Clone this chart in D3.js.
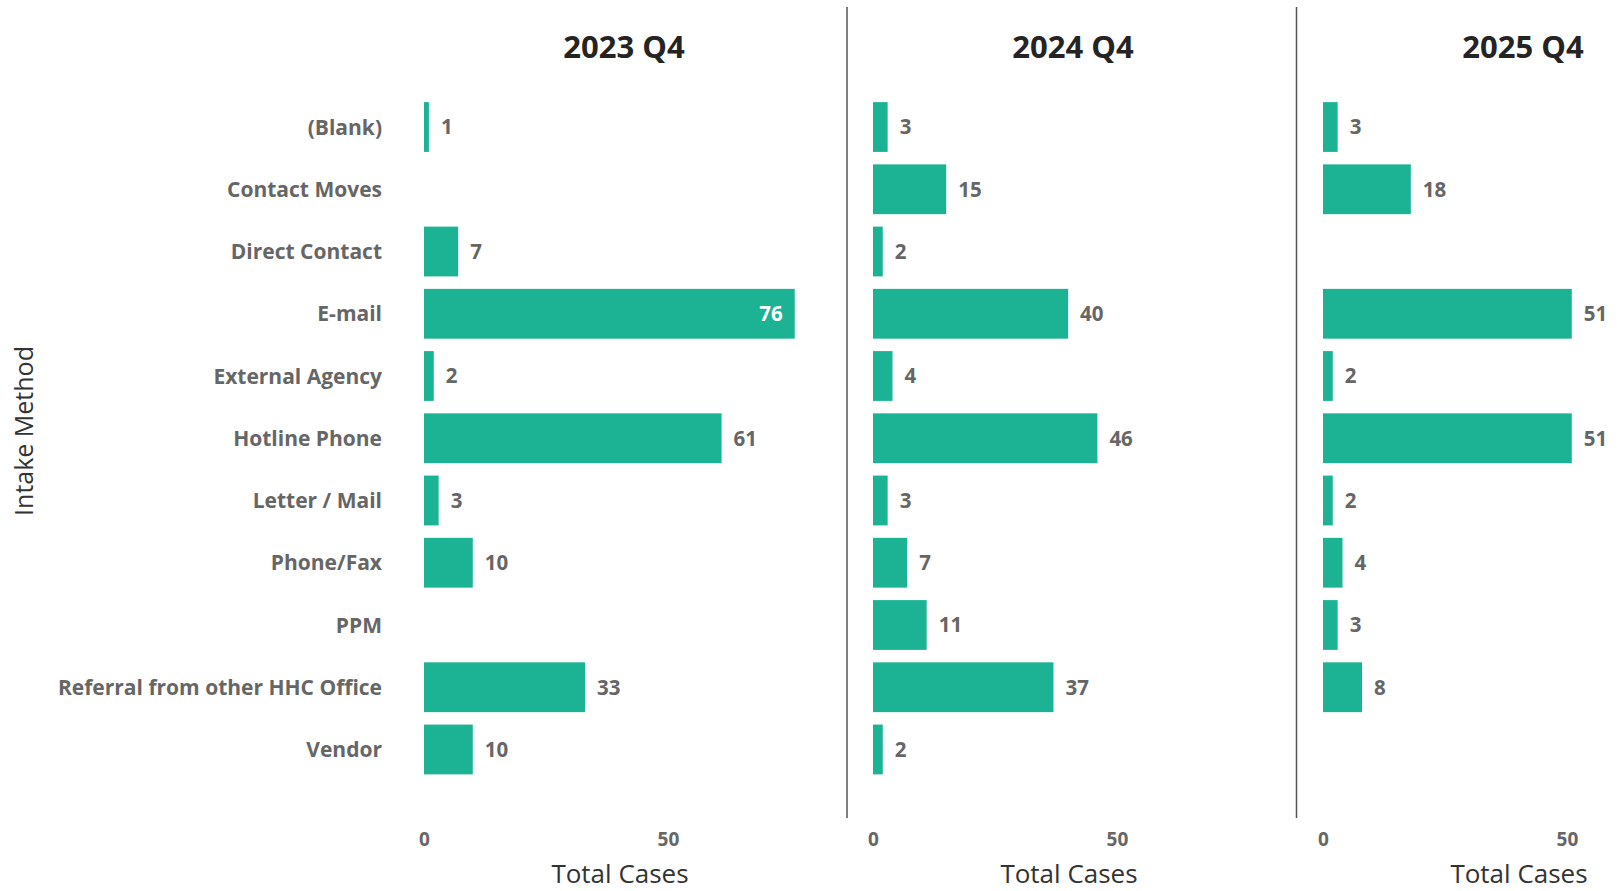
<!DOCTYPE html>
<html>
<head>
<meta charset="utf-8">
<script src="https://cdn.jsdelivr.net/npm/d3@7"></script>
<style>
  html, body { margin: 0; padding: 0; background: #ffffff; overflow: hidden; }
  svg { display: block; }
</style>
</head>
<body>
<svg id="chart" width="1618" height="891"></svg>
<script>
// Intake methods (rows shared by every panel)
const categories = [
  "(Blank)", "Contact Moves", "Direct Contact", "E-mail", "External Agency",
  "Hotline Phone", "Letter / Mail", "Phone/Fax", "PPM",
  "Referral from other HHC Office", "Vendor"
];

// One panel per quarter
const periods = ["2023 Q4", "2024 Q4", "2025 Q4"];

// Total cases per intake method (null = no cases in that quarter)
const cases2023 = [1, null, 7, 76, 2, 61, 3, 10, null, 33, 10];
const cases2024 = [3, 15, 2, 40, 4, 46, 3, 7, 11, 37, 2];
const cases2025 = [3, 18, null, 51, 2, 51, 2, 4, 3, 8, null];

const seriesByPeriod = [cases2023, cases2024, cases2025];

const xTicks = [0, 50];
const xMax = 82;

const xAxisTitle = "Total Cases";
const yAxisTitle = "Intake Method";

// ---- layout ----
const svg = d3.select("#chart");
const barColor = "#1bb394";
const panelLeft = [424, 873, 1323];
const panelWidth = 400;
const dividerX = [847, 1296.5];

const y = d3.scaleBand()
  .domain(categories)
  .range([95.9, 780.6])
  .paddingInner(0.2)
  .paddingOuter(0.1);

const x = d3.scaleLinear().domain([0, xMax]).range([0, panelWidth]);

const labelFont = "'Open Sans', 'Noto Sans', sans-serif";

// Y-axis title
svg.append("text")
  .attr("transform", "translate(33,431) rotate(-90)")
  .attr("text-anchor", "middle")
  .attr("font-family", labelFont)
  .attr("font-size", 25)
  .attr("fill", "#333333")
  .text(yAxisTitle);

// Category labels (left of the first panel)
svg.append("g")
  .selectAll("text")
  .data(categories)
  .join("text")
  .attr("x", 382)
  .attr("y", d => y(d) + y.bandwidth() / 2)
  .attr("dy", "0.36em")
  .attr("text-anchor", "end")
  .attr("font-family", labelFont)
  .attr("font-weight", 700)
  .attr("font-size", 21)
  .attr("fill", "#666666")
  .text(d => d);

// Panel dividers
svg.append("g")
  .selectAll("line")
  .data(dividerX)
  .join("line")
  .attr("x1", d => d).attr("x2", d => d)
  .attr("y1", 7).attr("y2", 818)
  .attr("stroke", "#555555")
  .attr("stroke-width", 1.5);

periods.forEach((period, i) => {
  const values = seriesByPeriod[i];
  const g = svg.append("g").attr("transform", `translate(${panelLeft[i]},0)`);
  const rows = categories.map((c, j) => ({ cat: c, value: values[j] }))
    .filter(d => d.value != null);

  // Panel title
  g.append("text")
    .attr("x", panelWidth / 2)
    .attr("y", 58)
    .attr("text-anchor", "middle")
    .attr("font-family", labelFont)
    .attr("font-weight", 700)
    .attr("font-size", 31)
    .attr("fill", "#252423")
    .text(period);

  // Bars
  g.append("g")
    .selectAll("rect")
    .data(rows)
    .join("rect")
    .attr("x", x(0))
    .attr("y", d => y(d.cat))
    .attr("width", d => x(d.value) - x(0))
    .attr("height", y.bandwidth())
    .attr("fill", barColor);

  // Value labels: outside the bar end, or inside when there is no room
  const gap = 12;
  const lbl = g.append("g")
    .selectAll("text")
    .data(rows)
    .join("text")
    .attr("y", d => y(d.cat) + y.bandwidth() / 2)
    .attr("dy", "0.36em")
    .attr("font-family", labelFont)
    .attr("font-weight", 700)
    .attr("font-size", 20.5)
    .text(d => d.value);

  lbl.each(function(d) {
    const w = this.getComputedTextLength();
    const end = x(d.value);
    const sel = d3.select(this);
    if (end + gap + w > panelWidth) {
      sel.attr("x", end - gap).attr("text-anchor", "end").attr("fill", "#ffffff");
    } else {
      sel.attr("x", end + gap).attr("text-anchor", "start").attr("fill", "#666666");
    }
  });

  // X axis (labels only)
  const axis = g.append("g")
    .attr("transform", "translate(0,839)")
    .call(d3.axisBottom(x).tickValues(xTicks).tickSize(0).tickPadding(0));
  axis.select(".domain").remove();
  axis.selectAll("text")
    .attr("dy", "0.36em")
    .attr("y", 0)
    .attr("font-family", labelFont)
    .attr("font-weight", 700)
    .attr("font-size", 19)
    .attr("fill", "#666666");

  // X-axis title
  g.append("text")
    .attr("x", panelWidth / 2 - 4)
    .attr("y", 883)
    .attr("text-anchor", "middle")
    .attr("font-family", labelFont)
    .attr("font-size", 26)
    .attr("fill", "#333333")
    .text(xAxisTitle);
});
</script>
</body>
</html>
